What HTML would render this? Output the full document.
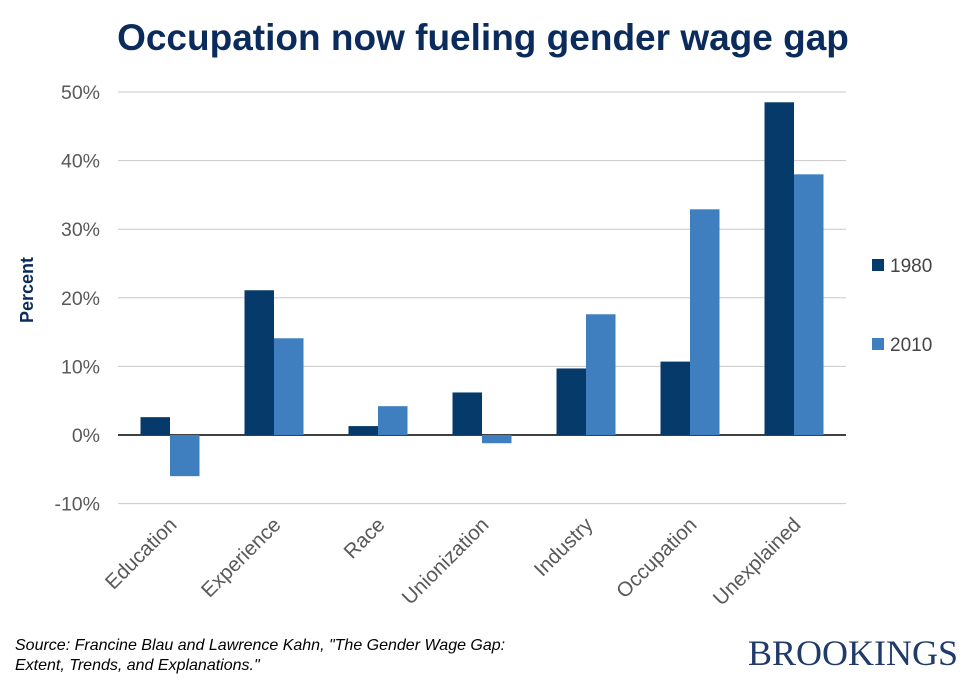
<!DOCTYPE html>
<html><head><meta charset="utf-8"><style>
body{margin:0;background:#fff;font-family:"Liberation Sans",Arial,sans-serif}
svg text{font-family:"Liberation Sans",Arial,sans-serif}
</style></head><body>
<svg id="chart" width="966" height="677" viewBox="0 0 966 677">
<text x="483" y="50" text-anchor="middle" font-size="37" font-weight="bold" fill="#0a2b5c">Occupation now fueling gender wage gap</text>
<g id="grid"></g>
<g id="bars"></g>
<g id="xlabels"></g>
<text transform="translate(33,290) rotate(-90)" text-anchor="middle" font-size="18" font-weight="bold" fill="#0a2b5c">Percent</text>
<rect x="872" y="259" width="12" height="12" fill="#063a6b"/>
<text x="890" y="272" font-size="19" fill="#444">1980</text>
<rect x="872" y="338" width="12" height="12" fill="#3f7fbf"/>
<text x="890" y="351" font-size="19" fill="#444">2010</text>
<text x="15" y="650" font-size="16" font-style="italic" fill="#000">Source: Francine Blau and Lawrence Kahn, "The Gender Wage Gap:</text>
<text x="15" y="670" font-size="16" font-style="italic" fill="#000">Extent, Trends, and Explanations."</text>
<text x="958" y="665" text-anchor="end" font-size="36" fill="#1f3a6b" style="font-family:'Liberation Serif',serif">BROOKINGS</text>
</svg>
<script>
const categories=["Education","Experience","Race","Unionization","Industry","Occupation","Unexplained"];
const values1980=[2.6,21.1,1.3,6.2,9.7,10.7,48.5];
const values2010=[-6.0,14.1,4.2,-1.2,17.6,32.9,38.0];
const ticks=[-10,0,10,20,30,40,50];
const tickLabels=["-10%","0%","10%","20%","30%","40%","50%"];
const NS="http://www.w3.org/2000/svg";
const x0=118,x1=846,y=v=>435-v*6.86;
const band=(x1-x0)/categories.length,bw=29.5;
function mk(t,a,p){const e=document.createElementNS(NS,t);for(const k in a)e.setAttribute(k,a[k]);p.appendChild(e);return e;}
const g=document.getElementById("grid");
ticks.forEach((t,i)=>{
 const l=mk("line",{x1:x0,x2:x1,y1:y(t),y2:y(t),stroke:t===0?"#000":"#c8c8c8","stroke-width":t===0?1.5:1},g);
 
 
 const tx=mk("text",{x:100,y:y(t)+7,"text-anchor":"end","font-size":19.5,fill:"#595959"},g);
 tx.textContent=tickLabels[i];
 
 
});
const b=document.getElementById("bars"),xl=document.getElementById("xlabels");
categories.forEach((c,i)=>{
 const cx=x0+band*(i+0.5);
 [[values1980[i],"#063a6b",cx-bw],[values2010[i],"#3f7fbf",cx]].forEach(([v,col,bx],j)=>{
  const r=mk("rect",{x:bx,y:Math.min(y(v),y(0)),width:bw,height:Math.abs(y(v)-y(0)),fill:col},b);
  
  
 });
 const t=mk("text",{transform:`translate(${cx+8},${526}) rotate(-45)`,"text-anchor":"end","font-size":20.5,fill:"#595959"},xl);
 t.textContent=c;
 
 
});
</script>
</body></html>
